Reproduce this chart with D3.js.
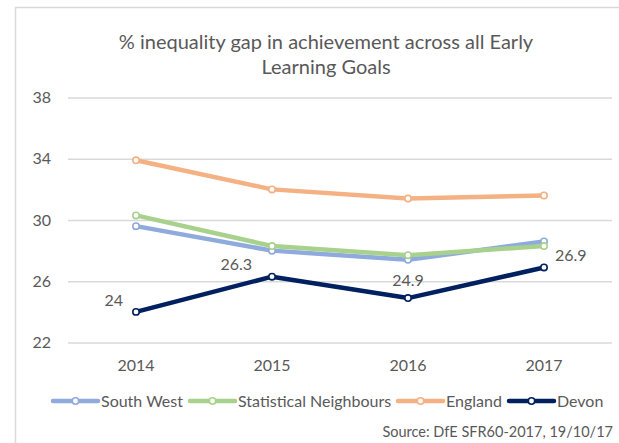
<!DOCTYPE html>
<html lang="en">
<head>
<meta charset="UTF-8">
<title>Inequality gap</title>
<script src="https://d3js.org/d3.v7.min.js"></script>
<style>
  body { margin: 0; background: #fff; }
  text { font-family: Lato, "Open Sans", sans-serif; fill: #595959; }
</style>
</head>
<body>
<script>
  // data
  const years = ["2014", "2015", "2016", "2017"];
  const southWest = [29.6, 28.0, 27.4, 28.6];
  const statNeighbours = [30.3, 28.3, 27.7, 28.3];
  const england = [33.9, 32.0, 31.4, 31.6];
  const devon = [24, 26.3, 24.9, 26.9];
  const yTicks = [22, 26, 30, 34, 38];
  const seriesNames = ["South West", "Statistical Neighbours", "England", "Devon"];

  const series = [
    { name: seriesNames[0], values: southWest, color: "#8faadc" },
    { name: seriesNames[1], values: statNeighbours, color: "#a9d18e" },
    { name: seriesNames[2], values: england, color: "#f4b183" },
    { name: seriesNames[3], values: devon, color: "#002060" }
  ];

  const W = 619, H = 443;
  const svg = d3.select("body").append("svg")
    .attr("width", W)
    .attr("height", H);

  // chart border (cropped on the right and bottom)
  svg.append("rect")
    .attr("x", 15.5).attr("y", 7.5)
    .attr("width", 700).attr("height", 600)
    .attr("fill", "none")
    .attr("stroke", "#d9d9d9")
    .attr("stroke-width", 1.5);

  // title
  const title = svg.append("text")
    .attr("text-anchor", "middle")
    .style("font-size", "20px");
  title.append("tspan").attr("x", 326).attr("y", 49)
    .text("% inequality gap in achievement across all Early");
  title.append("tspan").attr("x", 326).attr("y", 74)
    .text("Learning Goals");

  // scales
  const x = d3.scaleBand().domain(years).range([68, 612]);
  const y = d3.scaleLinear().domain([22, 38]).range([342.5, 97.5]);
  const cx = d => x(d) + x.bandwidth() / 2;

  // gridlines + y labels
  const yAxis = svg.append("g")
    .attr("transform", "translate(68,0)")
    .call(d3.axisLeft(y).tickValues(yTicks).tickSize(-544).tickPadding(17).tickFormat(d3.format("d")));
  yAxis.select(".domain").remove();
  yAxis.selectAll(".tick line").attr("stroke", "#d9d9d9").attr("stroke-width", 1.3);
  yAxis.selectAll(".tick text")
    .style("font-size", "16px")
    .style("font-family", "Lato, sans-serif")
    .attr("fill", "#595959");

  // x labels
  const xAxis = svg.append("g")
    .attr("transform", "translate(0,342.5)")
    .call(d3.axisBottom(x).tickSize(0).tickPadding(17));
  xAxis.select(".domain").remove();
  xAxis.selectAll(".tick text")
    .style("font-size", "16px")
    .style("font-family", "Lato, sans-serif")
    .attr("fill", "#595959");

  // lines
  const line = d3.line()
    .x((d, i) => cx(years[i]))
    .y(d => y(d));

  series.forEach(s => {
    svg.append("path")
      .datum(s.values)
      .attr("d", line)
      .attr("fill", "none")
      .attr("stroke", s.color)
      .attr("stroke-width", 4.5)
      .attr("stroke-linejoin", "round")
      .attr("stroke-linecap", "round");
    svg.selectAll(null)
      .data(s.values)
      .enter()
      .append("circle")
      .attr("cx", (d, i) => cx(years[i]))
      .attr("cy", d => y(d))
      .attr("r", 3.2)
      .attr("fill", "#fff")
      .attr("stroke", s.color)
      .attr("stroke-width", 1.6);
  });

  // Devon data labels
  const labelPos = [
    { dx: -13, dy: -6, anchor: "end" },
    { dx: -20, dy: -7, anchor: "end" },
    { dx: 0, dy: -12, anchor: "middle" },
    { dx: 11, dy: -6, anchor: "start" }
  ];
  svg.selectAll(".dlabel")
    .data(devon)
    .enter()
    .append("text")
    .attr("class", "dlabel")
    .attr("x", (d, i) => cx(years[i]) + labelPos[i].dx)
    .attr("y", (d, i) => y(d) + labelPos[i].dy)
    .attr("text-anchor", (d, i) => labelPos[i].anchor)
    .style("font-size", "16px")
    .text(d => d);

  // legend
  const legendX = [53, 190, 398, 509];
  const legend = svg.selectAll(".legend")
    .data(series)
    .enter()
    .append("g")
    .attr("class", "legend")
    .attr("transform", (d, i) => "translate(" + legendX[i] + ",401)");
  legend.append("line")
    .attr("x1", 0).attr("x2", 45)
    .attr("stroke", d => d.color)
    .attr("stroke-width", 4.5)
    .attr("stroke-linecap", "round");
  legend.append("circle")
    .attr("cx", 22.5).attr("r", 3.2)
    .attr("fill", "#fff")
    .attr("stroke", d => d.color)
    .attr("stroke-width", 1.6);
  legend.append("text")
    .attr("x", 48)
    .attr("dy", "0.35em")
    .style("font-size", "16px")
    .text(d => d.name);

  // source
  svg.append("text")
    .attr("x", 613).attr("y", 437)
    .attr("text-anchor", "end")
    .style("font-size", "14.5px")
    .text("Source: DfE SFR60-2017, 19/10/17");
</script>
</body>
</html>
